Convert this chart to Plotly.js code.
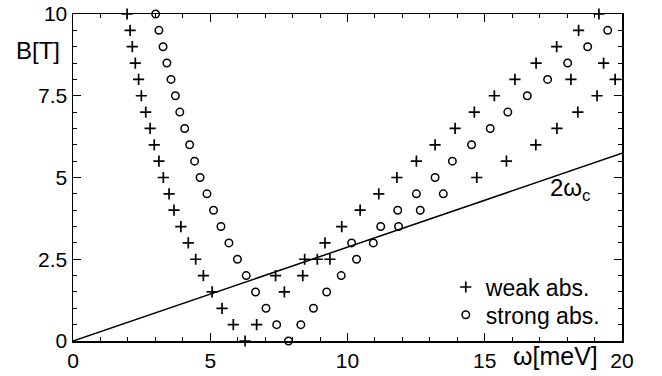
<!DOCTYPE html>
<html><head><meta charset="utf-8">
<script src="https://cdn.plot.ly/plotly-3.0.1.min.js"></script>
<style>body{margin:0;background:#fff}#chart{width:662px;height:376px}</style>
</head><body><div id="chart"></div>
<script>
// weak absorption (+)
const weakOmega = [1.97,2.08,2.16,2.27,2.39,2.49,2.65,2.81,2.96,3.13,3.29,3.50,3.68,3.93,4.20,4.47,4.75,5.07,5.43,5.84,
  6.27,6.69,7.70,7.38,
  8.37,8.44,8.90,9.36,9.18,9.79,10.46,11.14,11.80,12.51,13.19,13.92,14.62,15.35,16.10,16.87,17.62,18.42,19.16,
  14.71,15.79,16.86,17.63,18.39,19.09,19.75,
  18.14,19.33];
const weakB = [10,9.5,9,8.5,8,7.5,7,6.5,6,5.5,5,4.5,4,3.5,3,2.5,2,1.5,1,0.5,
  0,0.5,1.5,2,
  2,2.5,2.5,2.5,3,3.5,4,4.5,5,5.5,6,6.5,7,7.5,8,8.5,9,9.5,10,
  5,5.5,6,6.5,7,7.5,8,
  8,8.5];
// strong absorption (o)
const strongOmega = [3.01,3.13,3.28,3.42,3.57,3.73,3.89,4.07,4.25,4.43,4.63,4.88,5.12,5.39,5.68,5.99,6.31,6.65,7.03,7.42,7.85,
  8.30,8.76,9.24,9.77,10.33,10.94,11.86,12.65,13.49,
  10.15,11.21,11.83,12.51,13.19,13.82,14.52,15.20,15.84,16.55,17.29,18.02,18.75,19.48];
const strongB = [10,9.5,9,8.5,8,7.5,7,6.5,6,5.5,5,4.5,4,3.5,3,2.5,2,1.5,1,0.5,0,
  0.5,1,1.5,2,2.5,3,3.5,4,4.5,
  3,3.5,4,4.5,5,5.5,6,6.5,7,7.5,8,8.5,9,9.5];
// 2 omega_c line
const cyclotronOmega = [0, 20];
const cyclotronB = [0, 5.74];
const xTickVals = [0,5,10,15,20];
const xTickText = ['0','5','10','15','20'];
const yTickVals = [0,2.5,5,7.5,10];
const yTickText = ['0','2.5','5','7.5','10'];

const FONT = 'Liberation Sans, Arial, Helvetica, sans-serif';

const traces = [
  {x: cyclotronOmega, y: cyclotronB, type:'scatter', mode:'lines', line:{color:'#000', width:1.5}, showlegend:false, hoverinfo:'skip'},
  {x: weakOmega, y: weakB, type:'scatter', mode:'markers', name:'weak abs.', cliponaxis:false, legend:'legend',
   marker:{symbol:'cross-thin-open', size:8, color:'#000', line:{color:'#000', width:1.7}}},
  {x: strongOmega, y: strongB, type:'scatter', mode:'markers', name:'strong abs.', cliponaxis:false, legend:'legend2',
   marker:{symbol:'circle-open', size:7.5, color:'#000', line:{color:'#000', width:1.5}}}
];

const axisCommon = {
  showgrid:false, zeroline:false, showline:true, linecolor:'#000', linewidth:1.5,
  ticks:'inside', ticklen:8, tickwidth:1.2, tickcolor:'#000', mirror:'ticks',
  tickfont:{family:FONT, size:21, color:'#000'}
};

const legendCommon = {xanchor:'left', yanchor:'middle', bgcolor:'rgba(0,0,0,0)', borderwidth:0,
  font:{family:FONT, size:23, color:'#000'}, itemwidth:30, itemsizing:'trace'};

const layout = {
  width:662, height:376,
  margin:{l:73, r:40, t:14, b:35},
  paper_bgcolor:'#fff', plot_bgcolor:'#fff',
  font:{family:FONT, color:'#000'},
  xaxis: Object.assign({}, axisCommon, {range:[0,20], tickvals:xTickVals, ticktext:xTickText, ticklabelstandoff:0,
    minor:{dtick:1, ticks:'inside', ticklen:4, tickwidth:1, tickcolor:'#000'}}),
  yaxis: Object.assign({}, axisCommon, {range:[0,10], tickvals:yTickVals, ticktext:yTickText, ticklabelstandoff:0,
    minor:{dtick:0.5, ticks:'inside', ticklen:4, tickwidth:1, tickcolor:'#000'}}),
  showlegend:true,
  legend: Object.assign({}, legendCommon, {x:0.679, y:0.165}),
  legend2: Object.assign({}, legendCommon, {x:0.679, y:0.080}),
  annotations:[
    {text:'B[T]', xref:'paper', yref:'paper', x:-0.064, y:0.887, xanchor:'center', yanchor:'middle', showarrow:false,
     font:{family:FONT, size:24, color:'#000'}},
    {text:'ω[meV]', xref:'paper', yref:'paper', x:(555-73)/549, y:-0.046, xanchor:'center', yanchor:'middle', showarrow:false,
     font:{family:FONT, size:25, color:'#000'}},
    {text:'2ω<sub>c</sub>', xref:'x', yref:'y', x:18.09, y:4.62, xanchor:'center', yanchor:'middle', showarrow:false,
     font:{family:FONT, size:24, color:'#000'}}
  ]
};

Plotly.newPlot('chart', traces, layout, {displayModeBar:false, staticPlot:true});
</script>
</body></html>
